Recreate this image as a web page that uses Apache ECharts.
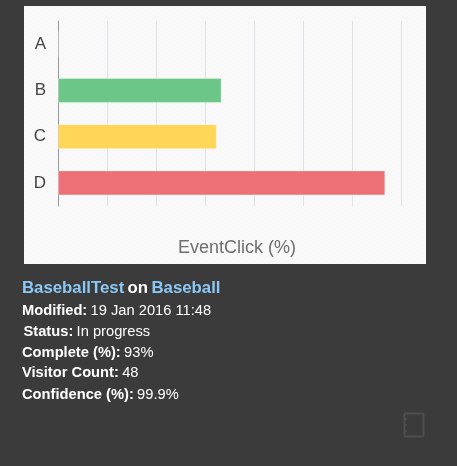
<!DOCTYPE html>
<html>
<head>
<meta charset="utf-8">
<style>html,body{margin:0;padding:0;background:#3b3b3b}#c{width:457px;height:466px}</style>
<script src="https://cdn.jsdelivr.net/npm/echarts@6/dist/echarts.min.js"></script>
</head>
<body>
<div id="c"></div>
<script>
var categories = ['A', 'B', 'C', 'D'];
var values = [0, 16.7, 16.2, 33.4];
var barColors = ['#6cc687', '#6cc687', '#ffd658', '#ec7076'];
var axisName = 'EventClick (%)';
var infoRows = [
  ['Modified:', '19 Jan 2016 11:48'],
  ['Status:', 'In progress'],
  ['Complete (%):', '93%'],
  ['Visitor Count:', '48'],
  ['Confidence (%):', '99.9%']
];
var rowY = [311, 332, 353, 373, 395];
var rowX = [22, 23.5, 22, 22, 22];
var font = '"Liberation Sans", Arial, sans-serif';

var tile = document.createElement('canvas');
tile.width = 4; tile.height = 4;
var tc = tile.getContext('2d');
tc.fillStyle = '#f9f9f9'; tc.fillRect(0, 0, 4, 4);
tc.fillStyle = '#f6f6f6';
for (var t = 0; t < 4; t++) { tc.fillRect((3 - t), t, 1, 1); }

var graphics = [
  {type: 'rect', z: -10, shape: {x: 24, y: 6, width: 402, height: 258}, style: {fill: {image: tile, repeat: 'repeat'}}},
  {type: 'text', x: 22, y: 288, style: {
    text: '{a|BaseballTest} {b|on} {a|Baseball}', verticalAlign: 'middle',
    rich: {
      a: {fill: '#8cc8f5', font: 'bold 16.8px ' + font},
      b: {fill: '#ffffff', font: 'bold 16.8px ' + font}
    }
  }},
  {type: 'rect', shape: {x: 404.5, y: 413.5, width: 19, height: 23, r: 1}, style: {fill: 'none', stroke: '#4f4f4f', lineWidth: 2}},
  {type: 'line', shape: {x1: 404, y1: 419, x2: 407, y2: 419}, style: {stroke: '#4f4f4f', lineWidth: 1.5}},
  {type: 'line', shape: {x1: 404, y1: 425, x2: 407, y2: 425}, style: {stroke: '#4f4f4f', lineWidth: 1.5}},
  {type: 'line', shape: {x1: 404, y1: 431, x2: 407, y2: 431}, style: {stroke: '#4f4f4f', lineWidth: 1.5}}
];
infoRows.forEach(function (r, i) {
  graphics.push({type: 'text', x: rowX[i], y: rowY[i], style: {
    text: '{k|' + r[0] + '} {v|' + r[1] + '}', verticalAlign: 'middle',
    rich: {
      k: {fill: '#ffffff', font: 'bold 14.7px ' + font},
      v: {fill: '#ffffff', font: '14.7px ' + font}
    }
  }});
});

var chart = echarts.init(document.getElementById('c'), null, {renderer: 'canvas'});
chart.setOption({
  animation: false,
  backgroundColor: '#3b3b3b',
  grid: {left: 58, top: 21, width: 343, height: 185, containLabel: false},
  xAxis: {
    type: 'value', min: 0, max: 35, interval: 5,
    axisLabel: {show: false}, axisTick: {show: false}, axisLine: {show: false},
    splitLine: {show: true, lineStyle: {color: '#dfe2e7', width: 1}},
    name: axisName, nameLocation: 'middle', nameGap: 33,
    nameTextStyle: {color: '#6e6e6e', fontSize: 18, fontFamily: font, padding: [0, 0, 0, 15]}
  },
  yAxis: {
    type: 'category', data: categories, inverse: true,
    axisTick: {show: false},
    axisLine: {show: true, lineStyle: {color: '#999999', width: 1}},
    axisLabel: {color: '#444444', fontSize: 17, fontFamily: font, margin: 12},
    splitLine: {show: false}
  },
  series: [{
    type: 'bar',
    data: values.map(function (v, i) {
      return {value: v, itemStyle: {color: barColors[i]}};
    }),
    barWidth: 25,
    itemStyle: {borderColor: 'rgba(255,255,255,0.35)', borderWidth: 1}
  }],
  graphic: graphics
});
</script>
</body>
</html>
